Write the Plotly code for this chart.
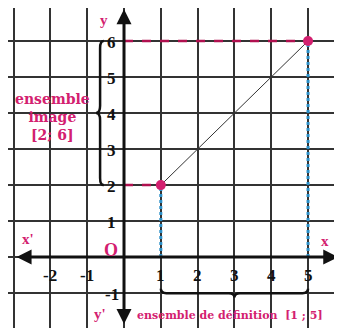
import plotly.graph_objects as go

# data
seg_x = [1, 5]
seg_y = [2, 6]
x_ticks = [-2, -1, 1, 2, 3, 4, 5]
y_ticks = [-1, 1, 2, 3, 4, 5, 6]
domain_label = "ensemble de définition  [1 ; 5]"
image_label = ["ensemble", "image", "[2; 6]"]

PINK = "#d3206f"
BLUE = "#2a8fc8"
SERIF = "Liberation Serif"
WIDE = "DejaVu Serif"

fig = go.Figure()

# blue dashed verticals
for xv, yv in zip(seg_x, seg_y):
    fig.add_trace(go.Scatter(x=[xv, xv], y=[0, yv], mode="lines",
                             line=dict(color=BLUE, width=3, dash="dot"),
                             hoverinfo="skip", showlegend=False))
# pink dashed horizontals
for xv, yv in zip(seg_x, seg_y):
    fig.add_trace(go.Scatter(x=[0, xv], y=[yv, yv], mode="lines",
                             line=dict(color="#b0104f", width=2.5, dash="dash"),
                             hoverinfo="skip", showlegend=False))
# segment
fig.add_trace(go.Scatter(x=seg_x, y=seg_y, mode="lines",
                         line=dict(color="#333333", width=1),
                         hoverinfo="skip", showlegend=False))
# points
fig.add_trace(go.Scatter(x=seg_x, y=seg_y, mode="markers",
                         marker=dict(color=PINK, size=10),
                         hoverinfo="skip", showlegend=False))

ann = []
# axes with arrows
ann.append(dict(x=5.82, y=0, ax=-2.96, ay=0, xref="x", yref="y", axref="x", ayref="y",
                showarrow=True, arrowhead=2, arrowside="end+start", arrowsize=1,
                arrowwidth=3, arrowcolor="#111", text=""))
ann.append(dict(x=0, y=6.88, ax=0, ay=-1.9, xref="x", yref="y", axref="x", ayref="y",
                showarrow=True, arrowhead=2, arrowside="end+start", arrowsize=1,
                arrowwidth=3, arrowcolor="#111", text=""))

tick_font = dict(family=SERIF, size=17, color="#111")
for t in x_ticks:
    ann.append(dict(x=t, y=-0.52, text=f"<b>{t}</b>", showarrow=False, font=tick_font))
for t in y_ticks:
    ann.append(dict(x=-0.33, y=t - 0.05, text=f"<b>{t}</b>", showarrow=False, font=tick_font))

lab_font = dict(family=SERIF, size=15, color=PINK)
ann.append(dict(x=-0.36, y=0.2, text="<b>O</b>", showarrow=False,
                font=dict(family=SERIF, size=18, color=PINK)))
ann.append(dict(x=-0.55, y=6.58, text="<b>y</b>", showarrow=False, font=lab_font))
ann.append(dict(x=-0.65, y=-1.58, text="<b>y'</b>", showarrow=False, font=lab_font))
ann.append(dict(x=-2.6, y=0.5, text="<b>x'</b>", showarrow=False, font=lab_font))
ann.append(dict(x=5.45, y=0.45, text="<b>x</b>", showarrow=False, font=lab_font))

ann.append(dict(x=-1.93, y=3.89, text="<br>".join(f"<b>{s}</b>" for s in image_label),
                showarrow=False, align="center",
                font=dict(family=WIDE, size=14, color=PINK)))
ann.append(dict(x=2.88, y=-1.61, text=f"<b>{domain_label}</b>", showarrow=False,
                font=dict(family=WIDE, size=11, color=PINK)))

shapes = [
    dict(type="path", xref="x", yref="y",
         path="M -0.55,6 Q -0.65,6 -0.65,5.8 L -0.65,4.2 Q -0.65,4 -0.76,4 "
              "Q -0.65,4 -0.65,3.8 L -0.65,2.2 Q -0.65,2 -0.55,2",
         line=dict(color="#111", width=2.5)),
    dict(type="path", xref="x", yref="y",
         path="M 1,-0.88 Q 1,-1.0 1.15,-1.0 L 2.85,-1.0 Q 3,-1.0 3,-1.12 "
              "Q 3,-1.0 3.15,-1.0 L 4.85,-1.0 Q 5,-1.0 5,-0.88",
         line=dict(color="#111", width=2.5)),
]

# page body has an 8px margin: ranges are set so the visible window matches
fig.update_layout(
    width=342, height=328, margin=dict(l=0, r=0, t=0, b=0),
    paper_bgcolor="white", plot_bgcolor="white",
    xaxis=dict(range=[-3.152, 6.14], dtick=1, tick0=0, showgrid=True,
               gridcolor="#333", gridwidth=1.5, zeroline=False,
               showticklabels=False, fixedrange=True),
    yaxis=dict(range=[-2.19, 6.917], dtick=1, tick0=0, showgrid=True,
               gridcolor="#333", gridwidth=1.5, zeroline=False,
               showticklabels=False, fixedrange=True),
    annotations=ann, shapes=shapes, showlegend=False,
)

fig.write_html("out.html")
